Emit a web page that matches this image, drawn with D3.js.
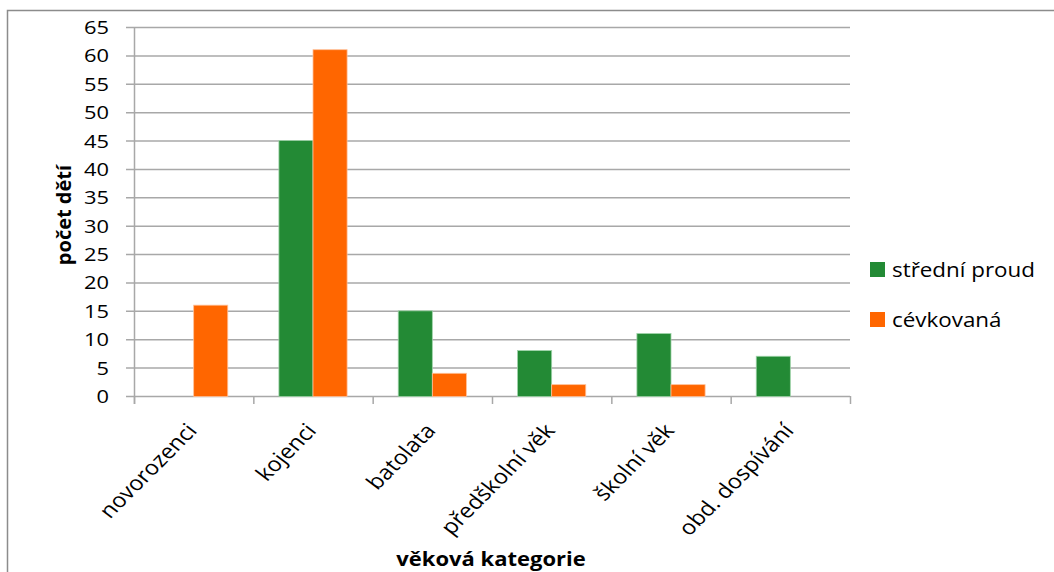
<!DOCTYPE html>
<html>
<head>
<meta charset="utf-8">
<script src="https://cdn.jsdelivr.net/npm/d3@7"></script>
<style>
  html, body { margin: 0; padding: 0; background: #fff; }
  svg { display: block; }
  text { font-family: "Open Sans", "Liberation Sans", sans-serif; fill: #000; }
</style>
</head>
<body>
<svg id="chart" width="1054" height="572"></svg>
<script>
// Age categories and counts of children per catheter type
const categories = ["novorozenci", "kojenci", "batolata", "předškolní věk", "školní věk", "obd. dospívání"];
const seriesNames = ["střední proud", "cévkovaná"];
const stredniProud = [0, 45, 15, 8, 11, 7];
const cevkovana = [16, 61, 4, 2, 2, 0];
const yTicks = [0, 5, 10, 15, 20, 25, 30, 35, 40, 45, 50, 55, 60, 65];
const colors = ["#238a35", "#ff6600"];

const svg = d3.select("#chart");
const W = 1054, H = 572;
const plot = { left: 134, right: 850, top: 27, bottom: 396 };
const SX = 1.15; // horizontal text widening

// outer frame
svg.append("rect")
  .attr("x", 7.5).attr("y", 10.5)
  .attr("width", W + 10).attr("height", H + 10)
  .attr("fill", "none").attr("stroke", "#8c8c8c").attr("stroke-width", 1.5);

const x0 = d3.scaleBand().domain(categories).range([plot.left, plot.right]).padding(0);
const x1 = d3.scaleBand().domain(seriesNames).range([0, x0.bandwidth()]).paddingInner(0).paddingOuter(0.75);
const y = d3.scaleLinear().domain([0, 65]).range([plot.bottom, plot.top]);

// horizontal gridlines with left tick stubs
svg.append("g").selectAll("line").data(yTicks).join("line")
  .attr("x1", plot.left - 8).attr("x2", plot.right)
  .attr("y1", d => y(d) + 0.5).attr("y2", d => y(d) + 0.5)
  .attr("stroke", "#a8a8a8").attr("stroke-width", 1.5);

// value axis line
svg.append("line")
  .attr("x1", plot.left + 0.5).attr("x2", plot.left + 0.5)
  .attr("y1", plot.top).attr("y2", plot.bottom + 8)
  .attr("stroke", "#a8a8a8").attr("stroke-width", 1.5);

// category tick marks at band boundaries
const bounds = categories.map(c => x0(c)).concat([plot.right]);
svg.append("g").selectAll("line").data(bounds).join("line")
  .attr("x1", d => d + 0.5).attr("x2", d => d + 0.5)
  .attr("y1", plot.bottom).attr("y2", plot.bottom + 8)
  .attr("stroke", "#a8a8a8").attr("stroke-width", 1.5);

// bars
const rows = categories.map((c, i) => ({ cat: c, vals: [stredniProud[i], cevkovana[i]] }));
const groups = svg.append("g").selectAll("g").data(rows).join("g")
  .attr("transform", d => `translate(${x0(d.cat)},0)`);
groups.selectAll("rect")
  .data(d => d.vals.map((v, k) => ({ name: seriesNames[k], v, k })).filter(e => e.v > 0))
  .join("rect")
  .attr("x", d => x1(d.name))
  .attr("width", x1.bandwidth())
  .attr("y", d => y(d.v))
  .attr("height", d => y(0) - y(d.v) + 0.5)
  .attr("fill", d => colors[d.k])
  .attr("stroke", d => d.k === 0 ? "#9fd3a8" : "#ffc199")
  .attr("stroke-width", 0.8);

// y tick labels
svg.append("g").selectAll("text").data(yTicks).join("text")
  .attr("transform", d => `translate(109,${y(d) + 7}) scale(${SX},1)`)
  .attr("text-anchor", "end")
  .style("font-size", "19px")
  .text(d => d);

// category labels, slanted at 45 degrees on screen
const rot = Math.atan(SX) * 180 / Math.PI;
svg.append("g").selectAll("text").data(categories).join("text")
  .attr("transform", c => `translate(${x0(c) + x0.bandwidth() / 2 - 8},${plot.bottom + 26}) scale(${SX},1) rotate(${-rot})`)
  .attr("text-anchor", "end")
  .attr("dy", "0.7em")
  .style("font-size", "20.5px")
  .text(c => c);

// axis titles
svg.append("text")
  .attr("transform", `translate(491,566) scale(1.1,1)`)
  .attr("text-anchor", "middle")
  .style("font-size", "20px").style("font-weight", "bold")
  .text("věková kategorie");

svg.append("text")
  .attr("transform", `translate(71,215) rotate(-90)`)
  .attr("text-anchor", "middle")
  .style("font-size", "20px").style("font-weight", "bold")
  .text("počet dětí");

// legend
const legend = svg.append("g").selectAll("g").data(seriesNames).join("g")
  .attr("transform", (d, i) => `translate(870,${262 + i * 50})`);
legend.append("rect")
  .attr("width", 15).attr("height", 15)
  .attr("fill", (d, i) => colors[i]);
legend.append("text")
  .attr("transform", `translate(22,15) scale(1.12,1)`)
  .style("font-size", "20px")
  .text(d => d);
</script>
</body>
</html>
